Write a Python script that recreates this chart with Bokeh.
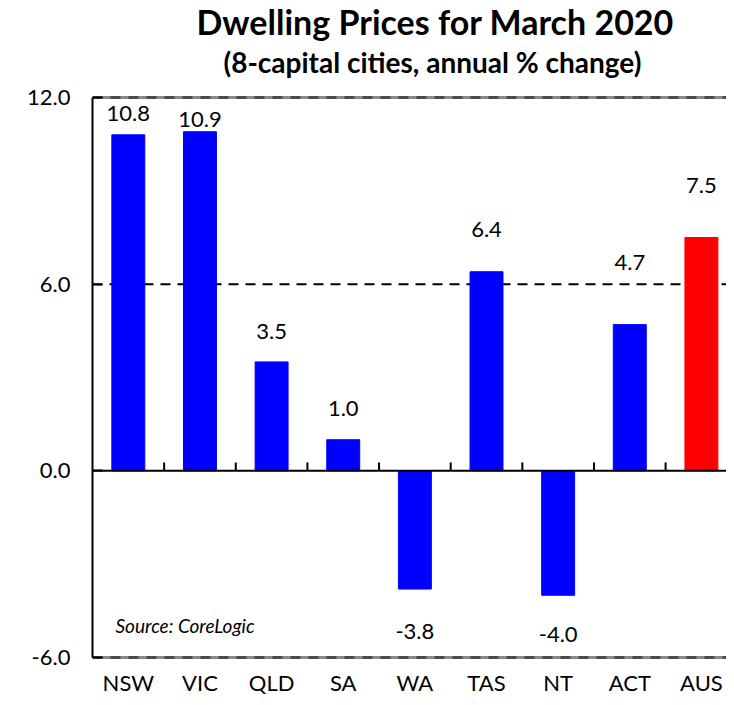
from bokeh.plotting import figure
from bokeh.models import ColumnDataSource, Label, Span, FixedTicker, PrintfTickFormatter
from bokeh.core.properties import value
from bokeh.embed import file_html
from bokeh.resources import INLINE

# ---- data ----
categories = ["NSW", "VIC", "QLD", "SA", "WA", "TAS", "NT", "ACT", "AUS"]
values = [10.8, 10.9, 3.5, 1.0, -3.8, 6.4, -4.0, 4.7, 7.5]
highlight = "AUS"
y_ticks = [-6.0, 0.0, 6.0, 12.0]
ref_line = 6.0
title_text = "Dwelling Prices for March 2020"
subtitle_text = "(8-capital cities, annual % change)"
source_text = "Source: CoreLogic"

# ---- layout / style ----
FONT = "Lato"
W, H = 726, 697
BORDER_L = 92
AXIS_TOP_PX, AXIS_BOT_PX = 97, 657      # where 12 and -6 sit on the canvas
label_gap_px = [21, 12, 30, 31, 42, 42, 39, 62, 52]

px_per_unit = (AXIS_BOT_PX - AXIS_TOP_PX) / (y_ticks[-1] - y_ticks[0])
y_end = y_ticks[-1] + AXIS_TOP_PX / px_per_unit
y_start = y_ticks[0] - (H - AXIS_BOT_PX) / px_per_unit

x = [i + 0.5 for i in range(len(categories))]
colors = ["#FF0000" if c == highlight else "#0000FF" for c in categories]
labels = [f"{v:.1f}" for v in values]
yoff = [-g if v >= 0 else g for g, v in zip(label_gap_px, values)]

src = ColumnDataSource(dict(x=x, top=values, color=colors, label=labels, yoff=yoff))
cat_src = ColumnDataSource(dict(x=x, y=[y_ticks[0]] * len(x), cat=categories))

p = figure(width=W, height=H, x_range=(0, 8.85), y_range=(y_start, y_end),
           output_backend="svg", toolbar_location=None, x_axis_location=None,
           min_border_left=BORDER_L, min_border_right=0, min_border_top=0,
           min_border_bottom=0)
p.outline_line_color = None
p.grid.visible = False
p.background_fill_color = "white"
p.border_fill_color = "white"

# reference lines
p.add_layout(Span(location=ref_line, dimension="width", line_color="black",
                  line_width=2, line_dash="10 7", level="underlay"))
for loc in (y_ticks[0], y_ticks[-1]):
    p.add_layout(Span(location=loc, dimension="width", line_color="#8a8a8a",
                      line_width=3, level="underlay"))
    p.add_layout(Span(location=loc, dimension="width", line_color="#4a4a4a",
                      line_width=3, line_dash="10 8", level="underlay"))

p.vbar(x="x", top="top", bottom=0, width=0.46, color="color", line_color="color", source=src)

# zero line with category boundary ticks
p.add_layout(Span(location=0, dimension="width", line_color="black", line_width=2))
bounds = list(range(1, len(categories)))
p.segment(x0=bounds, x1=bounds, y0=[0] * len(bounds), y1=[0.27] * len(bounds),
          line_color="black", line_width=2)

# value labels
p.text(x="x", y="top", text="label", y_offset="yoff", source=src,
       text_align="center", text_baseline="middle",
       text_font=value(FONT), text_font_size="22px", text_color="black")

# category labels (below the -6 line)
p.text(x="x", y="y", text="cat", y_offset=25, source=cat_src,
       text_align="center", text_baseline="middle",
       text_font=value(FONT), text_font_size="22px", text_color="black")

# y axis
yax = p.yaxis[0]
yax.bounds = (y_ticks[0], y_ticks[-1])
yax.ticker = FixedTicker(ticks=y_ticks)
yax.formatter = PrintfTickFormatter(format="%.1f")
yax.major_label_text_font = FONT
yax.major_label_text_font_size = "22px"
yax.major_label_text_color = "black"
yax.axis_line_color = "black"
yax.axis_line_width = 2
yax.major_tick_in = 10
yax.major_tick_out = 0
yax.major_tick_line_width = 2
yax.minor_tick_line_color = None
yax.major_label_standoff = 22

# titles and source note (screen units, relative to frame bottom-left)
p.add_layout(Label(x=104, y=H - 21, x_units="screen", y_units="screen", text=title_text,
                   text_font=FONT, text_font_style="bold", text_font_size="34px",
                   text_align="left", text_baseline="middle", text_color="black"))
p.add_layout(Label(x=131, y=H - 61, x_units="screen", y_units="screen", text=subtitle_text,
                   text_font=FONT, text_font_style="bold", text_font_size="28px",
                   text_align="left", text_baseline="middle", text_color="black"))
p.add_layout(Label(x=23, y=72, x_units="screen", y_units="screen", text=source_text,
                   text_font=FONT, text_font_style="italic", text_font_size="19px",
                   text_align="left", text_baseline="middle", text_color="black"))

open("out.html", "w").write(file_html(p, INLINE))
